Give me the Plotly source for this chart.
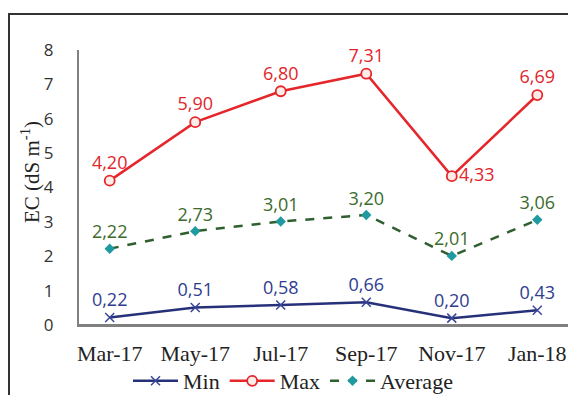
import plotly.graph_objects as go

months = ["Mar-17", "May-17", "Jul-17", "Sep-17", "Nov-17", "Jan-18"]
ec_min = [0.22, 0.51, 0.58, 0.66, 0.20, 0.43]
ec_max = [4.20, 5.90, 6.80, 7.31, 4.33, 6.69]
ec_avg = [2.22, 2.73, 3.01, 3.20, 2.01, 3.06]
y_ticks = [0, 1, 2, 3, 4, 5, 6, 7, 8]

def fmt(v):
    return f"{v:.2f}".replace(".", ",")

serif = "Liberation Serif, Times New Roman, serif"
sans = "Open Sans, Calibri, sans-serif"

# The page body has an 8px default margin; the figure is sized so it fits the window.
OFF = 8
W, H = 560, 387
L, R, T, B = 79 - OFF, 568 - OFF, 50 - OFF, 325 - OFF  # plot area in div pixels

def px(xd):
    return (xd - L) / (R - L)

def py(yd):
    return (B - yd) / (B - T)

fig = go.Figure()
fig.add_trace(go.Scatter(
    x=months, y=ec_min, name="Min", mode="lines+markers+text",
    line=dict(color="#27317A", width=2.5),
    marker=dict(symbol="x-thin", size=9, line=dict(color="#3A4699", width=1.5)),
    text=[fmt(v) for v in ec_min], textposition="top center",
    textfont=dict(color="#2E3D8F", size=18, family=sans),
    cliponaxis=False,
))
max_pos = ["top center"] * len(ec_max)
max_pos[4] = "middle right"
fig.add_trace(go.Scatter(
    x=months, y=ec_max, name="Max", mode="lines+markers+text",
    line=dict(color="#E5262B", width=2.5),
    marker=dict(symbol="circle", size=10, color="#FDEDE8", line=dict(color="#E5262B", width=1.8)),
    text=[fmt(v) for v in ec_max], textposition=max_pos,
    textfont=dict(color="#E0262B", size=18, family=sans),
    cliponaxis=False,
))
fig.add_trace(go.Scatter(
    x=months, y=ec_avg, name="Average", mode="lines+markers+text",
    line=dict(color="#2F5F2F", width=2.5, dash="dash"),
    marker=dict(symbol="diamond", size=8, color="#1E9AA0"),
    text=[fmt(v) for v in ec_avg], textposition="top center",
    textfont=dict(color="#3B6B2B", size=18, family=sans),
    cliponaxis=False,
))

fig.update_layout(
    width=W, height=H,
    margin=dict(l=L, r=W - R, t=T, b=H - B, autoexpand=False),
    paper_bgcolor="white", plot_bgcolor="white",
    showlegend=True,
    legend=dict(orientation="h", x=px(293 - OFF), xanchor="center",
                y=py(381 - OFF), yanchor="middle",
                bgcolor="rgba(0,0,0,0)",
                font=dict(family=serif, size=22, color="#222"),
                itemwidth=45, tracegroupgap=0),
    xaxis=dict(showline=True, linecolor="#808080", linewidth=2, showgrid=False,
               ticks="outside", ticklen=8, tickcolor="rgba(0,0,0,0)",
               tickfont=dict(family=serif, size=22, color="#222"),
               zeroline=False),
    yaxis=dict(range=[0, 8], tickvals=y_ticks, showline=True, linecolor="#808080",
               linewidth=2, showgrid=False, zeroline=False,
               ticks="outside", ticklen=20, tickcolor="rgba(0,0,0,0)",
               tickfont=dict(family=sans, size=17, color="#333")),
    annotations=[dict(text="EC (dS m<sup>-1</sup>)", xref="paper", yref="paper",
                      x=px(30 - OFF), y=py(172 - OFF), textangle=-90,
                      showarrow=False, xanchor="center", yanchor="middle",
                      font=dict(family=serif, size=21, color="#222"))],
    shapes=[
        dict(type="rect", xref="paper", yref="paper",
             x0=px(9 - OFF), x1=1.2, y0=-0.5, y1=py(14 - OFF),
             line=dict(color="#333", width=2)),
        # horizontal axis base line along the bottom of the plot area
        dict(type="line", xref="paper", yref="paper", x0=0, x1=1, y0=0, y1=0,
             line=dict(color="#808080", width=2), layer="above"),
    ],
)

fig.write_html("out.html")
